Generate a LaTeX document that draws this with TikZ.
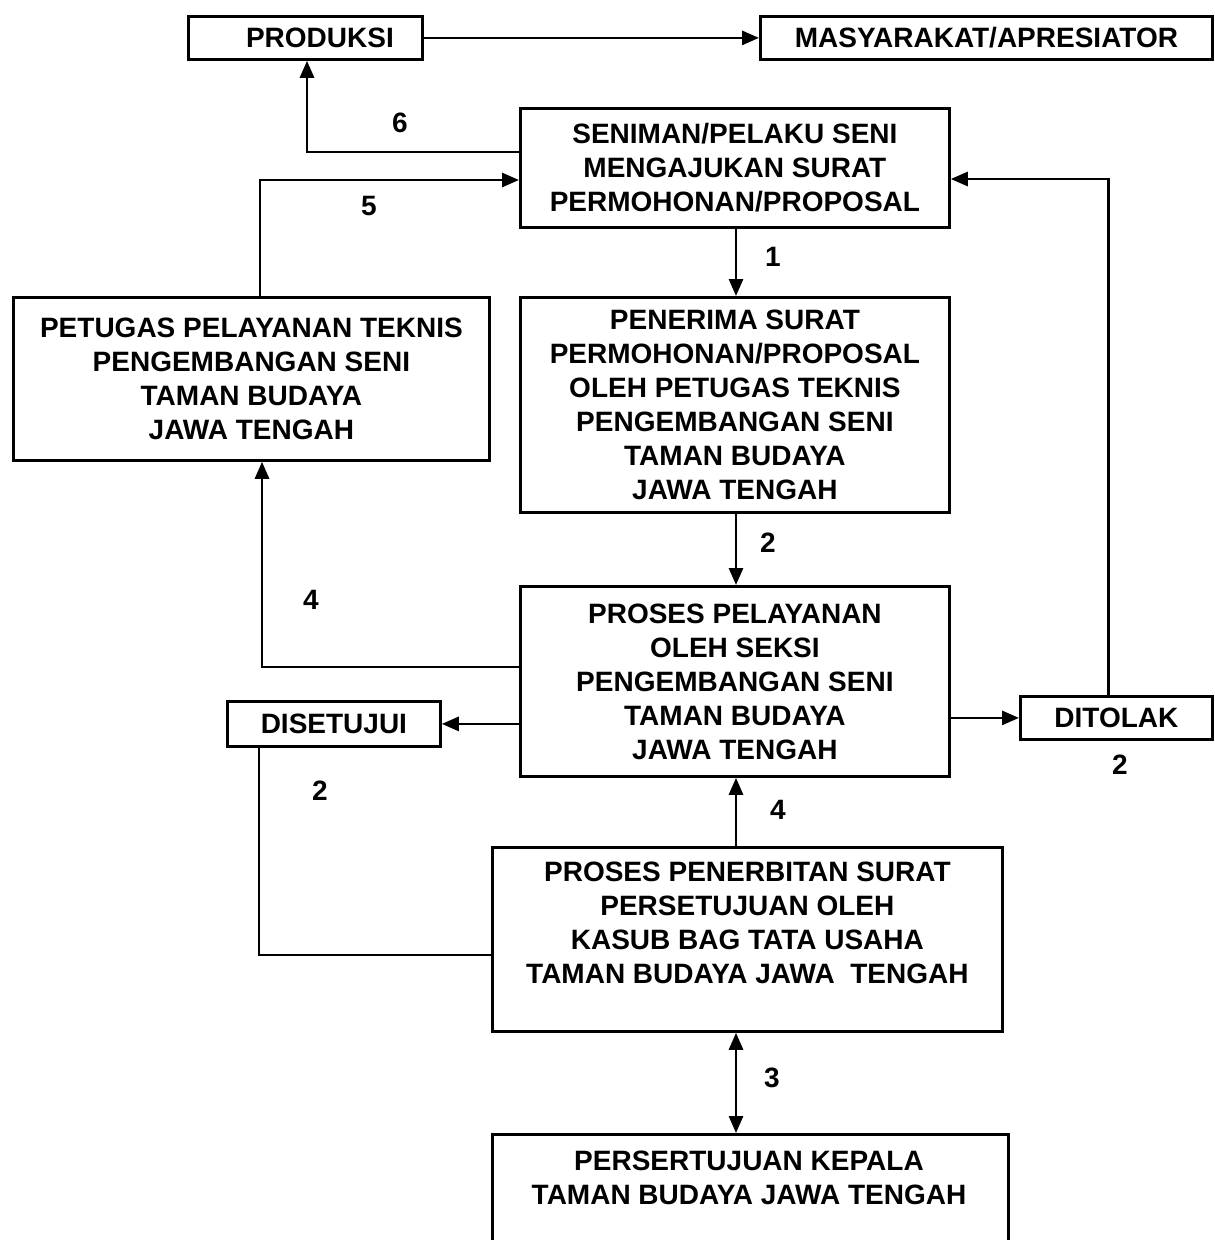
\documentclass[tikz,border=0pt]{standalone}
\usepackage{fontspec}
\setmainfont{Liberation Sans}
\usetikzlibrary{arrows.meta,calc}
\begin{document}
\begin{tikzpicture}[x=1pt,y=-1pt,
  txt/.style={font=\fontsize{28}{34}\selectfont\bfseries},
  box/.style={draw, line width=2.8pt, inner sep=0pt, align=center, anchor=north west, txt},
  num/.style={txt, inner sep=0pt},
  conn/.style={line width=2.8pt},
  arr/.style={conn, -{Triangle[length=17pt,width=14pt]}},
  darr/.style={conn, {Triangle[length=17pt,width=14pt]}-{Triangle[length=17pt,width=14pt]}}]
\useasboundingbox (0,0) rectangle (1215,1240);
\clip (0,0) rectangle (1215,1240);
% boxes
\node[box, minimum width=234pt, minimum height=43pt] (prod) at (187,15) {\hspace*{29pt}PRODUKSI};
\node[box, minimum width=452pt, minimum height=43pt] (masy) at (759,15) {MASYARAKAT/APRESIATOR};
\node[box, minimum width=429pt, minimum height=119pt] (sen) at (519,107)
  {SENIMAN/PELAKU SENI\\MENGAJUKAN SURAT\\PERMOHONAN/PROPOSAL};
\node[box, minimum width=476pt, minimum height=163pt] (pet) at (12,296)
  {PETUGAS PELAYANAN TEKNIS\\PENGEMBANGAN SENI\\TAMAN BUDAYA\\JAWA TENGAH};
\node[box, minimum width=429pt, minimum height=215pt] (pen) at (519,296)
  {PENERIMA SURAT\\PERMOHONAN/PROPOSAL\\OLEH PETUGAS TEKNIS\\PENGEMBANGAN SENI\\TAMAN BUDAYA\\JAWA TENGAH};
\node[box, minimum width=429pt, minimum height=190pt] (pros) at (519,585)
  {PROSES PELAYANAN\\OLEH SEKSI\\PENGEMBANGAN SENI\\TAMAN BUDAYA\\JAWA TENGAH};
\node[box, minimum width=213pt, minimum height=45pt] (dis) at (226,700) {DISETUJUI};
\node[box, minimum width=192pt, minimum height=43pt] (dit) at (1019,695) {DITOLAK};
\node[box, minimum width=510pt, minimum height=184pt] (terb) at (491,846)
  {PROSES PENERBITAN SURAT\\PERSETUJUAN OLEH\\KASUB BAG TATA USAHA\\TAMAN BUDAYA JAWA\ \ TENGAH\\\mbox{}};
\node[box, minimum width=516pt, minimum height=140pt] (kep) at (491,1133) {};
\node[txt, align=center, anchor=north, inner sep=0pt] (keptext) at (749,1151)
  {PERSERTUJUAN KEPALA\\TAMAN BUDAYA JAWA TENGAH};
% connectors
\draw[arr] (prod.east) -- (masy.west);
\draw[arr] ($(sen.north west)+(0,45)$) -| ($(prod.south west)+(120,0)$);
\draw[arr] ($(pet.north west)+(248,0)$) |- ($(sen.north west)+(0,73)$);
\draw[arr] ($(sen.south west)+(217,0)$) -- ($(pen.north west)+(217,0)$);
\draw[arr] ($(pen.south west)+(217,0)$) -- ($(pros.north west)+(217,0)$);
\draw[arr] ($(pros.north west)+(0,82)$) -| ($(pet.south west)+(250,0)$);
\draw[arr] (pros.west |- dis.east) -- (dis.east);
\draw[arr] (pros.east |- dit.west) -- (dit.west);
\draw[arr] ($(dit.north)+(-8,0)$) |- ($(sen.north east)+(0,72)$);
\draw[conn] ($(dis.south west)+(33,0)$) |- ($(terb.north west)+(0,109)$);
\draw[arr] ($(terb.north west)+(245,0)$) -- ($(pros.south west)+(217,0)$);
\draw[darr] ($(terb.south west)+(245,0)$) -- ($(kep.north west)+(245,0)$);
% numbers
\node[num] (n6) at (400,123) {6};
\node[num] (n5) at (369,206) {5};
\node[num] (n1) at (773,257) {1};
\node[num] (n2a) at (768,543) {2};
\node[num] (n4a) at (311,600) {4};
\node[num] (n2b) at (320,791) {2};
\node[num] (n4b) at (778,810) {4};
\node[num] (n2c) at (1120,765) {2};
\node[num] (n3) at (772,1078) {3};
\end{tikzpicture}
\end{document}
